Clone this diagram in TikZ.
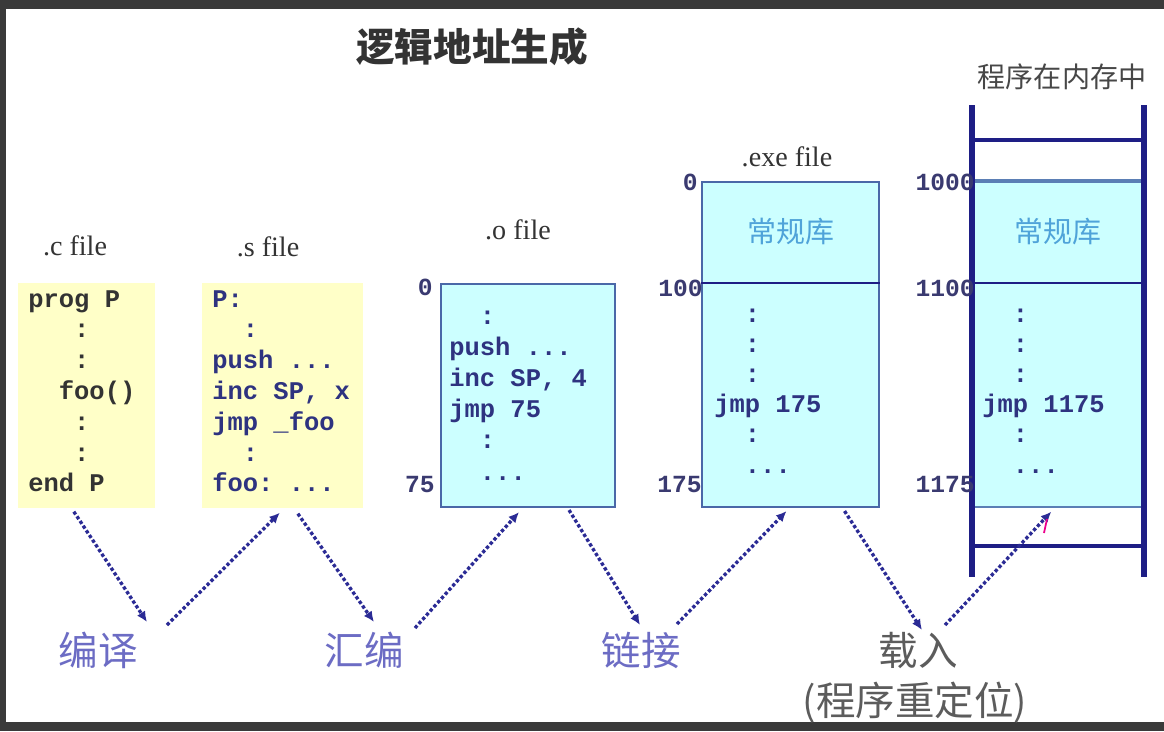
\documentclass[tikz,border=0pt]{standalone}
\usepackage{fontspec}
\setmainfont{Liberation Serif}
\setmonofont{Liberation Mono}
\newfontfamily\cjk{Noto Sans CJK SC}
\usetikzlibrary{arrows.meta,calc}

\newcommand\codedots{...}

\definecolor{framegray}{HTML}{3A3A3A}
\definecolor{paleyellow}{HTML}{FFFFC8}
\definecolor{palecyan}{HTML}{CCFFFF}
\definecolor{boxblue}{HTML}{4A68A8}
\definecolor{steelline}{HTML}{5B7FB5}
\definecolor{navy}{HTML}{1E1E85}
\definecolor{codeblue}{HTML}{2E3380}
\definecolor{codegray}{HTML}{333333}
\definecolor{addrgray}{HTML}{3A3A70}
\definecolor{libblue}{HTML}{4FA3D9}
\definecolor{labelpurple}{HTML}{6C6CC4}
\definecolor{arrowblue}{HTML}{2B2B95}

\tikzset{
  code/.style={font=\ttfamily\bfseries\fontsize{14.5}{17}\selectfont, inner sep=0, anchor=base west},
  addr/.style={font=\ttfamily\bfseries\fontsize{14}{16}\selectfont, text=addrgray, inner sep=0, anchor=east},
  filename/.style={font=\fontsize{16}{18}\selectfont, text=codegray, inner sep=0},
  steptext/.style={font=\cjk\fontsize{22.5}{26}\selectfont, text=labelpurple, inner sep=0},
  libtext/.style={font=\cjk\fontsize{16.5}{19}\selectfont, text=libblue, inner sep=0},
  srcbox/.style={fill=paleyellow, anchor=north west, inner sep=0, minimum height=4.5cm},
  objbox/.style={fill=palecyan, anchor=north west, inner sep=0},
  flow/.style={draw=arrowblue, line width=1.9pt, dash pattern=on 1.9pt off 1.3pt,
    -{Latex[length=6pt,width=5.5pt]}},
  memwall/.style={draw=navy, line width=3.4pt},
}

\begin{document}
\begin{tikzpicture}[x=0.02cm, y=-0.02cm]
  \useasboundingbox (0,0) rectangle (1164,731);
  \fill[framegray] (0,0) rectangle (1164,731);
  \fill[white] (6,9) rectangle (1164,722);

  % title
  \node[font=\cjk\bfseries\fontsize{22}{26}\selectfont, text=codegray] (title) at (472,47) {逻辑地址生成};

  % file names
  \node[filename] (cname) at (75,246) {.c file};
  \node[filename] (sname) at (268,247) {.s file};
  \node[filename] (oname) at (518,230) {.o file};
  \node[filename] (exename) at (787,157) {.exe file};
  \node[font=\cjk\fontsize{16}{19}\selectfont, text=codegray!90, inner sep=0] (memname) at (1062,77) {程序在内存中};

  % source files
  \node[srcbox, minimum width=2.74cm] (cfile) at (18,283) {};
  \node[srcbox, minimum width=3.22cm] (sfile) at (202,283) {};
  \foreach \txt [count=\i] in {prog P,~~~:,~~~:,~~foo(),~~~:,~~~:,end P}
    \node[code, text=codegray] (c\i) at (28,{307+30.8*(\i-1)}) {\txt};
  \foreach \txt [count=\i] in {P:,~~:,push \codedots,{inc SP, x},jmp \_foo,~~:,foo: \codedots}
    \node[code, text=codeblue] (s\i) at (212,{307+30.8*(\i-1)}) {\txt};

  % object file
  \node[objbox, draw=boxblue, line width=1.2pt, minimum width=3.48cm, minimum height=4.46cm] (ofile) at (440,283) {};
  \foreach \txt [count=\i] in {~~:,push \codedots,{inc SP, 4},jmp 75,~~:,~~\codedots}
    \node[code, text=codeblue] (o\i) at (449,{324+31.2*(\i-1)}) {\txt};
  \node[addr] (oaddr0) at (433,287) {0};
  \node[addr] (oaddr75) at (435,485) {75};

  % executable file
  \node[objbox, draw=boxblue, line width=1.2pt, minimum width=3.54cm, minimum height=6.5cm] (exefile) at (701,181) {};
  \draw[navy, line width=1.2pt] ($(exefile.north west)+(0,102)$) -- ($(exefile.north east)+(0,102)$);
  \node[libtext] (exelib) at ($(exefile.north)+(0,51)$) {常规库};
  \foreach \txt [count=\i] in {~~:,~~:,~~:,jmp 175,~~:,~~\codedots}
    \node[code, text=codeblue] (e\i) at (714,{322+30.2*(\i-1)}) {\txt};
  \node[addr] (eaddr0) at (698,182) {0};
  \node[addr] (eaddr100) at (703,288) {100};
  \node[addr] (eaddr175) at (702,485) {175};

  % program in memory
  \node[objbox, minimum width=3.44cm, minimum height=6.5cm] (mem) at (972,181) {};
  \draw[steelline, line width=2.4pt] (mem.north west) -- (mem.north east);
  \draw[navy, line width=1.4pt] ($(mem.north west)+(0,102)$) -- ($(mem.north east)+(0,102)$);
  \draw[steelline, line width=1.2pt] (mem.south west) -- (mem.south east);
  \node[libtext] (memlib) at ($(mem.north)+(0,51)$) {常规库};
  \foreach \txt [count=\i] in {~~:,~~:,~~:,jmp 1175,~~:,~~\codedots}
    \node[code, text=codeblue] (m\i) at (982,{322+30.2*(\i-1)}) {\txt};
  \draw[memwall] (972,105) -- (972,577);
  \draw[memwall] (1144,105) -- (1144,577);
  \draw[navy, line width=2.8pt] (972,140) -- (1144,140);
  \draw[navy, line width=2.8pt] (972,546) -- (1144,546);
  \node[addr] (maddr1000) at (975,182) {1000};
  \node[addr] (maddr1100) at (975,288) {1100};
  \node[addr] (maddr1175) at (975,485) {1175};

  % steps
  \node[steptext] (bianyi) at (98,650) {编译};
  \node[steptext] (huibian) at (364,650) {汇编};
  \node[steptext] (lianjie) at (641,650) {链接};
  \node[steptext, text=codegray!80] (zairu) at (918,650) {载入};
  \node[steptext, text=codegray!80] (reloc) at (915,703) {(程序重定位)};

  \draw[flow] ($(cfile.south)+(-13,3)$) -- ($(bianyi)+(49,-28)$);
  \draw[flow] ($(bianyi)+(69,-25)$) -- ($(sfile.south)+(-3,4)$);
  \draw[flow] ($(sfile.south)+(15,5)$) -- ($(huibian)+(10,-28)$);
  \draw[flow] ($(huibian)+(51,-22)$) -- ($(ofile.south)+(-9,4)$);
  \draw[flow] ($(ofile.south)+(41,2)$) -- ($(lianjie)+(-1,-25)$);
  \draw[flow] ($(lianjie)+(36,-26)$) -- ($(exefile.south)+(-4,3)$);
  \draw[flow] ($(exefile.south)+(54,3)$) -- ($(zairu)+(4,-20)$);
  \draw[flow] ($(zairu)+(27,-25)$) -- ($(mem.south)+(-7,5)$);
  \draw[magenta, line width=1pt] (1047,519) -- (1044,533);
\end{tikzpicture}
\end{document}
